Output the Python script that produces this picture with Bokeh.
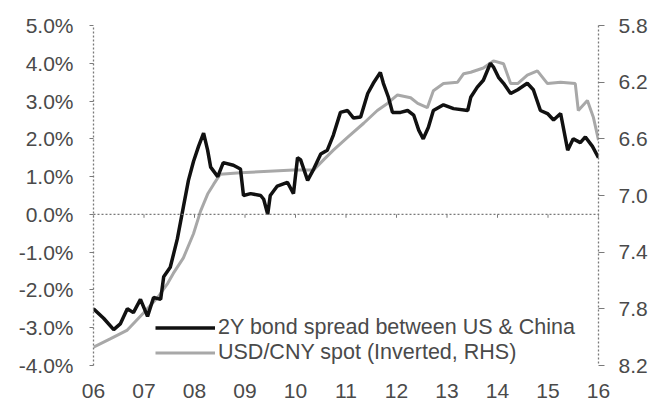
from bokeh.plotting import figure
from bokeh.models import (Range1d, LinearAxis, FixedTicker, Span, Legend, LegendItem)
from bokeh.embed import file_html
from bokeh.resources import INLINE

# ---- data ----
spread_x = [2006.00, 2006.20, 2006.40, 2006.53, 2006.67, 2006.79, 2006.93, 2007.07, 2007.19,
            2007.33, 2007.39, 2007.52, 2007.66, 2007.78, 2007.88, 2007.98, 2008.08, 2008.18,
            2008.26, 2008.32, 2008.46, 2008.57, 2008.77, 2008.91, 2008.97, 2009.11, 2009.31,
            2009.37, 2009.45, 2009.50, 2009.64, 2009.84, 2009.96, 2010.04, 2010.10, 2010.24,
            2010.36, 2010.50, 2010.63, 2010.75, 2010.89, 2011.03, 2011.15, 2011.29, 2011.43,
            2011.54, 2011.68, 2011.74, 2011.84, 2011.92, 2012.08, 2012.22, 2012.34, 2012.44,
            2012.53, 2012.63, 2012.73, 2012.93, 2013.13, 2013.41, 2013.47, 2013.60, 2013.72,
            2013.86, 2013.92, 2014.02, 2014.12, 2014.26, 2014.40, 2014.59, 2014.71, 2014.85,
            2014.99, 2015.11, 2015.25, 2015.39, 2015.50, 2015.64, 2015.74, 2015.88, 2016.00]
spread_y = [-2.50, -2.75, -3.05, -2.90, -2.50, -2.60, -2.25, -2.70, -2.20,
            -2.25, -1.65, -1.40, -0.65, 0.20, 0.90, 1.40, 1.80, 2.15,
            1.70, 1.25, 1.00, 1.37, 1.30, 1.20, 0.50, 0.55, 0.50,
            0.40, 0.00, 0.50, 0.75, 0.85, 0.55, 1.50, 1.45, 0.90,
            1.20, 1.60, 1.70, 2.10, 2.70, 2.75, 2.55, 2.58, 3.20,
            3.47, 3.76, 3.47, 3.10, 2.70, 2.70, 2.75, 2.63, 2.23,
            2.00, 2.30, 2.75, 2.90, 2.80, 2.75, 3.10, 3.37, 3.55,
            4.00, 3.90, 3.63, 3.47, 3.20, 3.30, 3.47, 3.30, 2.75,
            2.67, 2.50, 2.67, 1.70, 2.00, 1.90, 2.05, 1.80, 1.50]

fx_x = [2006.00, 2006.34, 2006.67, 2006.99, 2007.27, 2007.47, 2007.58, 2007.78, 2007.98,
        2008.12, 2008.26, 2008.38, 2008.51, 2008.91, 2009.96, 2010.36, 2010.55, 2010.75,
        2011.03, 2011.35, 2011.62, 2011.82, 2012.02, 2012.28, 2012.42, 2012.61, 2012.73,
        2012.93, 2013.21, 2013.33, 2013.47, 2013.72, 2013.92, 2014.12, 2014.26, 2014.40,
        2014.59, 2014.79, 2014.99, 2015.25, 2015.54, 2015.60, 2015.78, 2015.90, 2016.00]
fx_y = [8.07, 8.01, 7.95, 7.83, 7.72, 7.62, 7.55, 7.44, 7.27,
        7.11, 6.99, 6.92, 6.85, 6.84, 6.82, 6.82, 6.75, 6.68,
        6.59, 6.49, 6.40, 6.35, 6.29, 6.31, 6.35, 6.38, 6.26,
        6.21, 6.20, 6.14, 6.13, 6.10, 6.05, 6.07, 6.21, 6.21,
        6.15, 6.12, 6.21, 6.20, 6.21, 6.40, 6.33, 6.45, 6.61]

x_ticks = [2006, 2007, 2008, 2009, 2010, 2011, 2012, 2013, 2014, 2015, 2016]
x_labels = ["06", "07", "08", "09", "10", "11", "12", "13", "14", "15", "16"]
left_ticks = [-4, -3, -2, -1, 0, 1, 2, 3, 4, 5]
left_labels = ["-4.0%", "-3.0%", "-2.0%", "-1.0%", "0.0%", "1.0%", "2.0%", "3.0%", "4.0%", "5.0%"]
right_ticks = [5.8, 6.2, 6.6, 7.0, 7.4, 7.8, 8.2]
right_labels = ["5.8", "6.2", "6.6", "7.0", "7.4", "7.8", "8.2"]

series_names = ["2Y bond spread between US & China", "USD/CNY spot (Inverted, RHS)"]

FONT = "Liberation Sans"
TXT = "#4a4a4a"
AX = "#7a7a7a"
FS = "21px"

p = figure(width=652, height=401, x_range=Range1d(2006, 2016), y_range=Range1d(-4, 5),
           output_backend="svg", toolbar_location=None,
           min_border_left=93, min_border_right=54, min_border_top=25, min_border_bottom=36,
           y_axis_location=None)
p.outline_line_color = None
p.xgrid.visible = False
p.ygrid.visible = False
p.background_fill_color = "white"
p.border_fill_color = "white"

p.extra_y_ranges = {"fx": Range1d(start=8.2, end=5.8)}

# left axis
la = LinearAxis(ticker=FixedTicker(ticks=left_ticks),
                major_label_overrides={t: l for t, l in zip(left_ticks, left_labels)})
# right axis
ra = LinearAxis(y_range_name="fx", ticker=FixedTicker(ticks=right_ticks),
                major_label_overrides={t: l for t, l in zip(right_ticks, right_labels)})
for ax in (la, ra):
    ax.axis_line_color = AX
    ax.axis_line_dash = "2 2"
    ax.axis_line_width = 1.3
    ax.major_tick_line_color = AX
    ax.major_tick_in = 0
    ax.minor_tick_line_color = None
    ax.major_label_text_font = FONT
    ax.major_label_text_font_size = FS
    ax.major_label_text_color = TXT
la.major_tick_out = 4
la.major_label_standoff = 16
ra.major_tick_out = 6
ra.major_label_standoff = 14
p.add_layout(la, "left")
p.add_layout(ra, "right")

# x axis: labels only
xa = p.xaxis[0]
xa.ticker = FixedTicker(ticks=x_ticks)
xa.major_label_overrides = {t: l for t, l in zip(x_ticks, x_labels)}
xa.axis_line_color = None
xa.major_tick_line_color = None
xa.minor_tick_line_color = None
xa.major_label_text_font = FONT
xa.major_label_text_font_size = FS
xa.major_label_text_color = TXT
xa.major_label_standoff = 12

# zero line with small year ticks
p.add_layout(Span(location=0, dimension="width", line_color=AX, line_dash="2 2", line_width=1.3))
p.segment(x0=x_ticks, y0=[0] * len(x_ticks), x1=x_ticks, y1=[-0.09] * len(x_ticks),
          line_color=AX, line_width=1)

r_fx = p.line(fx_x, fx_y, y_range_name="fx", line_color="#a8a8a8", line_width=3)
r_sp = p.line(spread_x, spread_y, line_color="#111111", line_width=3.5)

legend = Legend(items=[LegendItem(label=series_names[0], renderers=[r_sp]),
                       LegendItem(label=series_names[1], renderers=[r_fx])],
                location=(62, 0), orientation="vertical",
                border_line_color=None, background_fill_alpha=0,
                padding=0, spacing=0, margin=0,
                glyph_width=60, glyph_height=25, label_height=25, label_standoff=3,
                label_text_font=FONT, label_text_font_size="21.5px", label_text_color=TXT)
p.add_layout(legend)

open("out.html", "w").write(file_html(p, INLINE))
